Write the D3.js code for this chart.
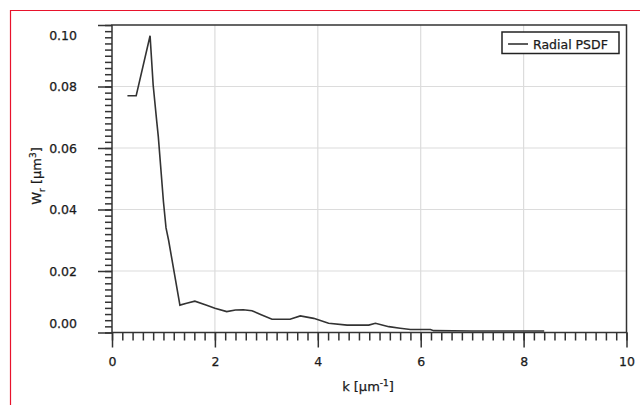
<!DOCTYPE html>
<html><head><meta charset="utf-8">
<script src="https://cdn.jsdelivr.net/npm/d3@7"></script>
<style>body{margin:0;background:#fff}svg{display:block}text{font-family:"DejaVu Sans",sans-serif;fill:#1a1a1a;stroke:#1a1a1a;stroke-width:0.25px}</style>
</head><body><svg id="c" width="640" height="405"></svg>
<script>
const kValues = [0.30,0.47,0.74,0.80,0.87,0.90,1.00,1.05,1.10,1.32,1.45,1.61,1.84,2.00,2.23,2.40,2.55,2.72,2.90,3.11,3.46,3.66,3.92,4.21,4.57,4.99,5.12,5.38,5.60,5.80,6.19,6.25,7.00,8.40];
const wValues = [0.0770,0.0770,0.0965,0.0805,0.0686,0.0637,0.0425,0.0340,0.0300,0.0089,0.0095,0.0102,0.0089,0.0079,0.0068,0.0073,0.0074,0.0071,0.0058,0.0043,0.0043,0.0054,0.0046,0.0030,0.0024,0.0024,0.0030,0.0019,0.0014,0.0010,0.0010,0.0006,0.0005,0.0005];
const xTicks = [0,2,4,6,8,10];
const yTicks = [0,0.02,0.04,0.06,0.08,0.10];
const seriesName = "Radial PSDF";

const svg = d3.select("#c");
const L=112, R=626.5, T=25, B=332.5;
const x = d3.scaleLinear().domain([0,10]).range([L,R]);
const y = d3.scaleLinear().domain([0,0.1]).range([B,T]);

// red outer frame
svg.append("path").attr("d","M10.5,405 L10.5,10.5 L640,10.5").attr("fill","none").attr("stroke","#e8132c").attr("stroke-width",1.2);

// grid
svg.append("g").selectAll("line").data(xTicks.filter(d=>d>0&&d<10)).join("line")
  .attr("x1",d=>x(d)).attr("x2",d=>x(d)).attr("y1",T).attr("y2",B).attr("stroke","#dcdcdc").attr("stroke-width",1.2);
svg.append("g").selectAll("line").data(yTicks.filter(d=>d>0&&d<0.1)).join("line")
  .attr("y1",d=>y(d)).attr("y2",d=>y(d)).attr("x1",L).attr("x2",R).attr("stroke","#dcdcdc").attr("stroke-width",1.2);

// frame
svg.append("rect").attr("x",L).attr("y",T).attr("width",R-L).attr("height",B-T).attr("fill","none").attr("stroke","#333").attr("stroke-width",1.5);

// x axis
const xMinor = d3.range(0,10.001,0.2);
const xa = svg.append("g").attr("transform",`translate(0,${B})`);
xa.call(d3.axisBottom(x).tickValues(xMinor).tickSize(8).tickFormat(""));
xa.append("g").call(d3.axisBottom(x).tickValues(xTicks).tickSize(15).tickFormat(d3.format("d")));
xa.selectAll(".domain").remove();
xa.selectAll("line").attr("stroke","#333").attr("stroke-width",1.5);
xa.selectAll("text").attr("font-size",12.5).attr("fill","#1a1a1a").attr("font-family","DejaVu Sans").attr("dy","1.25em");

// y axis
const yMinor = d3.range(0,0.1001,0.002);
const ya = svg.append("g").attr("transform",`translate(${L},0)`);
ya.call(d3.axisLeft(y).tickValues(yMinor).tickSize(7).tickFormat(""));
ya.append("g").call(d3.axisLeft(y).tickValues(yTicks).tickSize(14).tickFormat(d3.format(".2f")));
ya.selectAll(".domain").remove();
ya.selectAll("line").attr("stroke","#333").attr("stroke-width",1.5);
ya.selectAll("text").attr("font-size",12.5).attr("fill","#1a1a1a").attr("font-family","DejaVu Sans")
  .attr("x",-35).attr("dy",d=> d===0.1? "1.15em" : d===0 ? "-0.4em" : "0.32em");

// line
const data = kValues.map((k,i)=>({k,w:wValues[i]}));
svg.append("path").datum(data).attr("fill","none").attr("stroke","#333").attr("stroke-width",1.6)
  .attr("d",d3.line().x(d=>x(d.k)).y(d=>y(d.w)));

// axis titles
const xt = svg.append("text").attr("x",368).attr("y",391).attr("text-anchor","middle").attr("font-size",13);
xt.append("tspan").text("k [µm");
xt.append("tspan").text("-1").attr("font-size",9).attr("dy",-5);
xt.append("tspan").text("]").attr("dy",5);

const yt = svg.append("text").attr("transform","translate(41,176) rotate(-90)").attr("text-anchor","middle").attr("font-size",13);
yt.append("tspan").text("W");
yt.append("tspan").text("r").attr("font-size",9).attr("dy",4);
yt.append("tspan").text(" [µm").attr("dy",-4);
yt.append("tspan").text("3").attr("font-size",9).attr("dy",-5);
yt.append("tspan").text("]").attr("dy",5);

// legend
const lg = svg.append("g");
lg.append("rect").attr("x",502).attr("y",32).attr("width",117).attr("height",21.5).attr("fill","#fff").attr("stroke","#222").attr("stroke-width",1.5);
lg.append("line").attr("x1",508).attr("x2",528).attr("y1",44).attr("y2",44).attr("stroke","#333").attr("stroke-width",1.6);
lg.append("text").attr("x",533).attr("y",48.5).attr("font-size",12.5).text(seriesName);
</script></body></html>
